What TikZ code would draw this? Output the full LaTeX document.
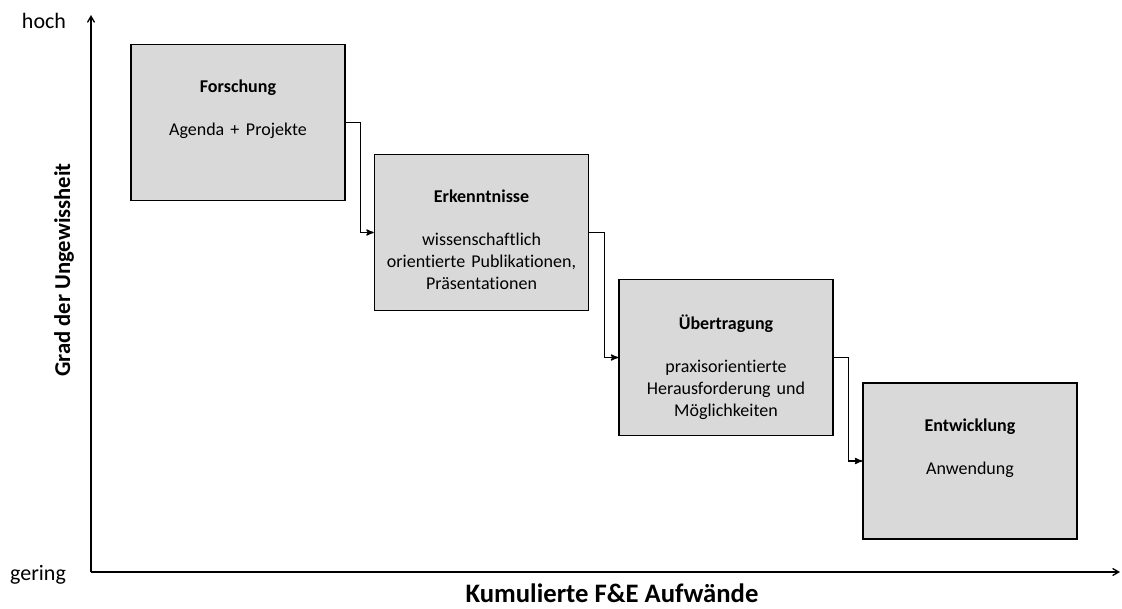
\documentclass[tikz,border=0pt]{standalone}
\usepackage{fontspec}
\setmainfont{Carlito}[Ligatures=NoCommon]
\usetikzlibrary{arrows, positioning}
\definecolor{boxgray}{HTML}{D9D9D9}
\tikzset{
	phase/.style     = {draw=black, line width=1.2pt, rectangle, fill=boxgray, minimum width=160.5pt, minimum height=117pt},
	phasetext/.style = {text width=155pt, align=center, inner sep=0pt, anchor=north, font=\fontsize{13.5}{16.2}\selectfont},
	axislabel/.style = {font=\fontsize{16.5}{20}\selectfont},
	arrow/.style     = {->, >=stealth', line width=1pt},
	axis/.style      = {->, >=angle 60, line width=1pt}
}
\begin{document}
\begin{tikzpicture}[x=0.75pt, y=-0.75pt]
	\useasboundingbox (0,0) rectangle (1122,608);
	% axes
	\coordinate (origin) at (91,572);
	\coordinate (ytop)   at (91,15);
	\coordinate (xend)   at (1120,572);
	\draw [axis] (origin) -- (ytop);
	\draw [axis] (origin) -- (xend);
	\node (high)   [axislabel] at (44,21) {hoch};
	\node (low)    [axislabel, anchor=base] at (38,580) {gering};
	\node (ylabel) [rotate=90, font=\fontsize{17}{20}\selectfont\bfseries] at (64,270) {Grad der Ungewissheit};
	\node (xlabel) [anchor=base, inner sep=0pt, font=\fontsize{20}{24}\selectfont\bfseries] at (612,602) {Kumulierte F\&E Aufwände};

	% phases
	\node (b1) [phase] at (238,122.5) {};
	\node (b2) [phase] at (481.5,232.5) {};
	\node (b3) [phase] at (726,357.5) {};
	\node (b4) [phase] at (970,461) {};
	\node (t1) [phasetext, below=27pt of b1.north] {\textbf{Forschung}\\[16.2pt]Agenda +\hspace{5pt}Projekte};
	\node (t2) [phasetext, below=27pt of b2.north] {\textbf{Erkenntnisse}\\[16.2pt]wissenschaftlich\\orientierte Publikationen,\\Präsentationen};
	\node (t3) [phasetext, below=27pt of b3.north] {\textbf{Übertragung}\\[16.2pt]praxisorientierte\\Herausforderung und\\Möglichkeiten};
	\node (t4) [phasetext, below=27pt of b4.north] {\textbf{Entwicklung}\\[16.2pt]Anwendung};

	\draw [arrow] (b1.east) -- ++(15,0) |- (b2.west);
	\draw [arrow] (b2.east) -- ++(15,0) |- (b3.west);
	\draw [arrow] (b3.east) -- ++(15,0) |- (b4.west);
\end{tikzpicture}
\end{document}
